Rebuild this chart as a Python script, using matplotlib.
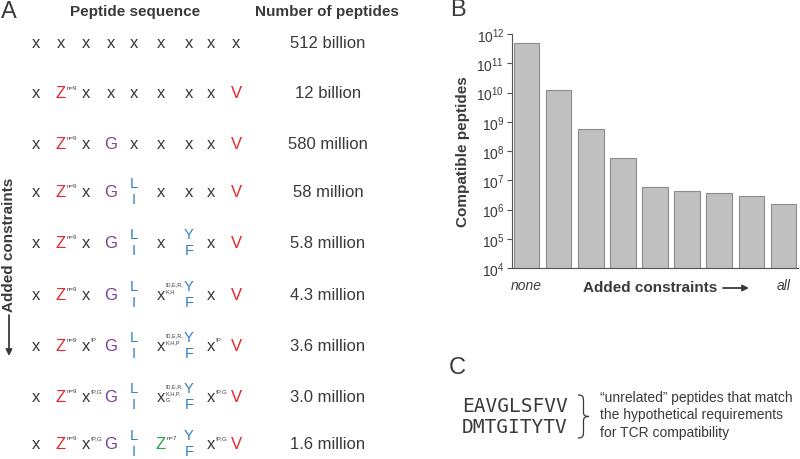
import matplotlib
matplotlib.use("Agg")
import matplotlib.pyplot as plt
from matplotlib.path import Path
from matplotlib.patches import PathPatch

plt.rcParams['font.family'] = ['Liberation Sans', 'DejaVu Sans']
plt.rcParams['mathtext.fontset'] = 'custom'
plt.rcParams['mathtext.rm'] = 'Liberation Sans'
plt.rcParams['mathtext.it'] = 'Liberation Sans:italic'

# ---------------- data ----------------
seq_rows = [
    ["x", "x", "x", "x", "x", "x", "x", "x", "x"],
    ["x", "Z^n=9", "x", "x", "x", "x", "x", "x", "V"],
    ["x", "Z^n=9", "x", "G", "x", "x", "x", "x", "V"],
    ["x", "Z^n=9", "x", "G", "L/I", "x", "x", "x", "V"],
    ["x", "Z^n=9", "x", "G", "L/I", "x", "Y/F", "x", "V"],
    ["x", "Z^n=9", "x", "G", "L/I", "x^!D,E,R,\nK,H", "Y/F", "x", "V"],
    ["x", "Z^n=9", "x^!P", "G", "L/I", "x^!D,E,R,\nK,H,P", "Y/F", "x^!P", "V"],
    ["x", "Z^n=9", "x^!P,G", "G", "L/I", "x^!D,E,R,\nK,H,P,\nG", "Y/F", "x^!P,G", "V"],
    ["x", "Z^n=9", "x^!P,G", "G", "L/I", "Z^n=7", "Y/F", "x^!P,G", "V"],
]
count_labels = ["512 billion", "12 billion", "580 million", "58 million", "5.8 million",
                "4.3 million", "3.6 million", "3.0 million", "1.6 million"]
bar_values = [512e9, 12e9, 580e6, 58e6, 5.8e6, 4.3e6, 3.6e6, 3.0e6, 1.6e6]
bar_ticklabels = ["none", "", "", "", "", "", "", "", "all"]
example_peptides = ["EAVGLSFVV", "DMTGITYTV"]
example_note = ["\u201cunrelated\u201d peptides that match",
                "the hypothetical requirements",
                "for TCR compatibility"]

# ---------------- styles ----------------
DARK = '#3a3a3a'
RED = '#e8262d'
PURPLE = '#7a3e96'
BLUE = '#2f7fc1'
GREEN = '#2aa548'
letter_color = {'x': DARK, 'Z': RED, 'V': RED, 'G': PURPLE, 'L/I': BLUE, 'Y/F': BLUE}
green_override = {"Z^n=7"}

W, H = 800, 460
fig = plt.figure(figsize=(W / 100, H / 100), dpi=100)

# ---------------- panel B : bar chart ----------------
ax = fig.add_axes([512 / W, (H - 269) / H, (798 - 512) / W, (269 - 35) / H])
xs = list(range(len(bar_values)))
ax.bar(xs, bar_values, width=0.8, color='#c0c0c0', edgecolor='#8c8c8c', linewidth=0.8)
ax.set_yscale('log')
ax.set_ylim(1e4, 1e12)
ax.set_xlim(-0.45, len(bar_values) - 0.55)
ax.set_yticks([10.0 ** k for k in range(4, 13)])
ax.yaxis.set_minor_locator(matplotlib.ticker.NullLocator())
ax.set_xticks(xs)
ax.set_xticklabels(bar_ticklabels, fontstyle='italic', fontsize=10, color=DARK)
ax.tick_params(axis='x', length=0, pad=7)
ax.tick_params(axis='y', length=3.5, width=0.8, colors='#555555', labelcolor=DARK,
               labelsize=10, pad=2)
for s in ['top', 'right']:
    ax.spines[s].set_visible(False)
for s in ['left', 'bottom']:
    ax.spines[s].set_color('#555555')
    ax.spines[s].set_linewidth(0.8)

# ---------------- overlay for text ----------------
ov = fig.add_axes([0, 0, 1, 1], zorder=-1)
ov.set_xlim(0, W)
ov.set_ylim(H, 0)
ov.axis('off')

ov.text(450, 10, "B", fontsize=17, color=DARK, ha='left', va='center')
ov.text(463, 152, "Compatible peptides", rotation=90, fontsize=11, fontweight='bold',
        color=DARK, ha='center', va='center')
ov.text(650, 288, "Added constraints", fontsize=11, fontweight='bold', color=DARK,
        ha='center', va='center')
ov.annotate('', xy=(749, 289), xytext=(723, 289),
            arrowprops=dict(arrowstyle='-|>', color=DARK, lw=1.3, mutation_scale=9,
                            shrinkA=0, shrinkB=0))

# ---------------- panel A ----------------
ov.text(1, 12, "A", fontsize=17, color=DARK, ha='left', va='center')
ov.text(135, 12, "Peptide sequence", fontsize=11, fontweight='bold', color=DARK,
        ha='center', va='center')
ov.text(327, 12, "Number of peptides", fontsize=11, fontweight='bold', color=DARK,
        ha='center', va='center')

ov.text(9, 245, "Added constraints", rotation=90, fontsize=11, fontweight='bold',
        color=DARK, ha='center', va='center')
ov.annotate('', xy=(9, 357), xytext=(9, 316),
            arrowprops=dict(arrowstyle='-|>', color=DARK, lw=1.3, mutation_scale=9,
                            shrinkA=0, shrinkB=0))

col_x = [36, 61, 86, 111, 134, 161, 189, 211, 236]
row_y = [44, 94, 145, 193, 244, 296, 347, 398, 445]
count_x = 328

for i, row in enumerate(seq_rows):
    y = row_y[i]
    for j, tok in enumerate(row):
        cx = col_x[j]
        if '^' in tok:
            base, sup = tok.split('^')
        else:
            base, sup = tok, None
        color = letter_color[base]
        if tok in green_override:
            color = GREEN
        if '/' in base:
            top, bot = base.split('/')
            ov.text(cx, y - 9, top, fontsize=10.5, color=color, ha='center', va='center')
            ov.text(cx, y + 7, bot, fontsize=10.5, color=color, ha='center', va='center')
        else:
            ov.text(cx, y, base, fontsize=12, color=color, ha='center', va='center')
        if sup is not None:
            lines = sup.split('\n')
            half = 4.5 if base == 'x' else 5.5
            if len(lines) == 1:
                ov.text(cx + half, y - 6, sup, fontsize=4.5, color=DARK,
                        ha='left', va='center')
            else:
                for k, ln in enumerate(lines):
                    ov.text(cx + half, y - 11 + 6.6 * k, ln, fontsize=4.0, color=DARK,
                            ha='left', va='center')
    ov.text(count_x, y, count_labels[i], fontsize=12, color=DARK, ha='center', va='center')

# ---------------- panel C ----------------
ov.text(449, 368, "C", fontsize=17, color=DARK, ha='left', va='center')
for k, pep in enumerate(example_peptides):
    ov.text(462, 407 + 21 * k, pep, fontsize=14, family='DejaVu Sans Mono', color=DARK,
            ha='left', va='center')

# thin curly brace (decoration)
bx0, bx1, btip, ytop, ybot = 578.0, 583.5, 589.0, 396.0, 439.0
ymid = (ytop + ybot) / 2
verts = [
    (bx0, ytop), (bx1, ytop), (bx1, ytop + 2), (bx1, ytop + 8),
    (bx1, ymid - 4),
    (bx1, ymid - 1), (bx1 + 2, ymid), (btip, ymid),
    (bx1 + 2, ymid), (bx1, ymid + 1), (bx1, ymid + 4),
    (bx1, ybot - 8),
    (bx1, ybot - 2), (bx1, ybot), (bx0, ybot),
]
codes = [Path.MOVETO, Path.CURVE4, Path.CURVE4, Path.CURVE4,
         Path.LINETO,
         Path.CURVE4, Path.CURVE4, Path.CURVE4,
         Path.CURVE4, Path.CURVE4, Path.CURVE4,
         Path.LINETO,
         Path.CURVE4, Path.CURVE4, Path.CURVE4]
ov.add_patch(PathPatch(Path(verts, codes), fill=False, edgecolor=DARK, lw=0.9))

for k, ln in enumerate(example_note):
    ov.text(600, 398 + 17.5 * k, ln, fontsize=10, color=DARK, ha='left', va='center')

fig.savefig("out.png", dpi=100)
